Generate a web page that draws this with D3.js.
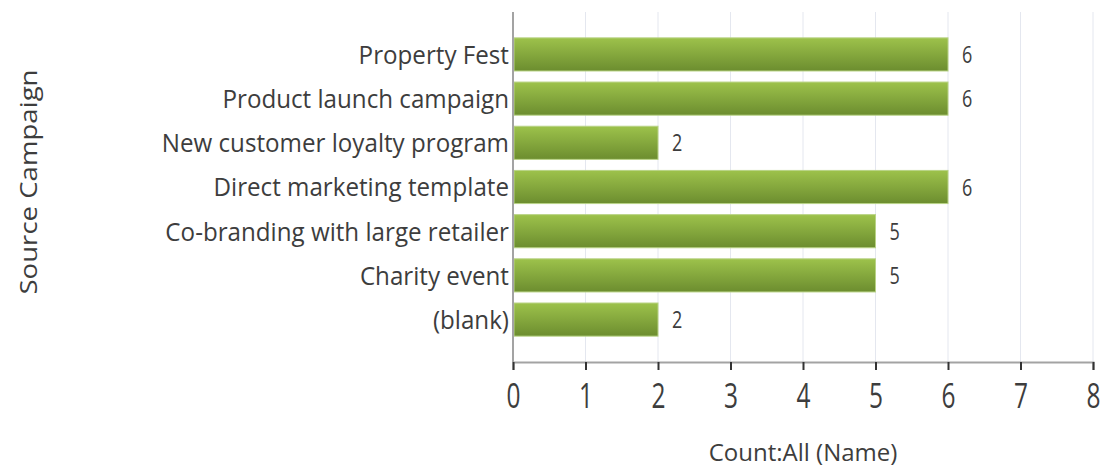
<!DOCTYPE html>
<html lang="en">
<head>
  <meta charset="UTF-8">
  <title>Source Campaign</title>
  <script src="https://d3js.org/d3.v7.min.js"></script>
  <style>
    body { margin: 0; background: #fff; }
    svg { display: block; font-family: "Open Sans", sans-serif; }
    .cat { font-size: 26px; fill: #3d3d3d; }
    .val { font-size: 24px; fill: #3d3d3d; }
    .tick text { font-size: 34px; fill: #3d3d3d; font-family: "Open Sans", sans-serif; }
    .title { font-size: 24px; fill: #3d3d3d; }
  </style>
</head>
<body>
  <svg id="chart" width="1104" height="468"></svg>
  <script>
    // data
    const campaigns = [
      "Property Fest", "Product launch campaign", "New customer loyalty program",
      "Direct marketing template", "Co-branding with large retailer", "Charity event", "(blank)"
    ];
    const counts = [6, 6, 2, 6, 5, 5, 2];
    const xTicks = [0, 1, 2, 3, 4, 5, 6, 7, 8];

    const data = campaigns.map((c, i) => ({ name: c, value: counts[i] }));

    const svg = d3.select("#chart");
    const plotLeft = 513, plotRight = 1093, plotTop = 12, plotBottom = 362;
    const squeeze = 0.93; // text in the picture is a bit narrow

    const x = d3.scaleLinear().domain([0, 8]).range([plotLeft, plotRight]);
    const y = d3.scaleBand()
      .domain(campaigns)
      .range([plotTop, plotBottom])
      .paddingInner(0.25)
      .paddingOuter(0.585);

    const defs = svg.append("defs");
    const grad = defs.append("linearGradient")
      .attr("id", "barFill").attr("x1", 0).attr("y1", 0).attr("x2", 0).attr("y2", 1);
    grad.append("stop").attr("offset", "0%").attr("stop-color", "#9dc24b");
    grad.append("stop").attr("offset", "100%").attr("stop-color", "#6c8d2f");

    // grid lines
    svg.append("g")
      .selectAll("line")
      .data(xTicks.slice(1))
      .enter()
      .append("line")
      .attr("x1", d => x(d)).attr("x2", d => x(d))
      .attr("y1", plotTop).attr("y2", plotBottom)
      .attr("stroke", "#e4e7ef")
      .attr("stroke-width", 1);

    // bars
    svg.append("g")
      .selectAll("rect")
      .data(data)
      .enter()
      .append("rect")
      .attr("x", x(0) + 1)
      .attr("y", d => y(d.name))
      .attr("width", d => x(d.value) - x(0) - 1)
      .attr("height", y.bandwidth())
      .attr("fill", "url(#barFill)")
      .attr("stroke", "#b9d386")
      .attr("stroke-width", 1);

    // value labels
    svg.append("g")
      .selectAll("text")
      .data(data)
      .enter()
      .append("text")
      .attr("class", "val")
      .attr("transform", d => `translate(${x(d.value) + 14},${y(d.name) + y.bandwidth() / 2}) scale(0.75,1)`)
      .attr("dy", "0.36em")
      .text(d => d.value);

    // category labels
    svg.append("g")
      .selectAll("text")
      .data(data)
      .enter()
      .append("text")
      .attr("class", "cat")
      .attr("text-anchor", "end")
      .attr("transform", d => `translate(${plotLeft - 4},${y(d.name) + y.bandwidth() / 2}) scale(${squeeze},1)`)
      .attr("dy", "0.36em")
      .text(d => d.name);

    // x axis
    const xAxis = svg.append("g")
      .attr("transform", `translate(0,${plotBottom})`)
      .call(d3.axisBottom(x).tickValues(xTicks).tickSize(8).tickPadding(14).tickFormat(d3.format("d")));
    xAxis.select(".domain").attr("stroke", "#a3a3a3").attr("stroke-width", 2);
    xAxis.selectAll(".tick line").attr("stroke", "#333").attr("stroke-width", 2);
    xAxis.selectAll(".tick text").attr("transform", "scale(0.72,1)");

    // y axis line
    svg.append("line")
      .attr("x1", plotLeft).attr("x2", plotLeft)
      .attr("y1", plotTop).attr("y2", plotBottom)
      .attr("stroke", "#a3a3a3").attr("stroke-width", 2);

    // axis titles
    svg.append("text")
      .attr("class", "title")
      .attr("text-anchor", "middle")
      .attr("transform", `translate(${(plotLeft + plotRight) / 2},461)`)
      .text("Count:All (Name)");

    svg.append("text")
      .attr("class", "title")
      .attr("text-anchor", "middle")
      .attr("transform", `translate(37,182) rotate(-90) scale(1.15,0.95)`)
      .text("Source Campaign");
  </script>
</body>
</html>
